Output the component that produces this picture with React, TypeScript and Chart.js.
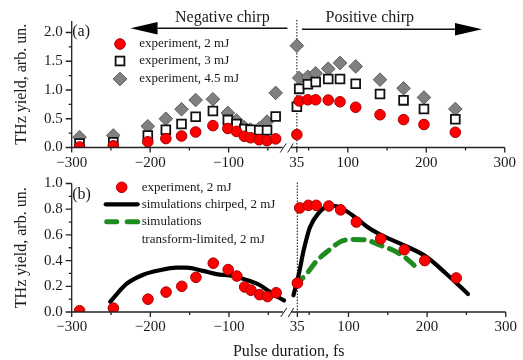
import React, { useEffect, useRef } from "react";
import { Chart, registerables } from "chart.js";
Chart.register(...registerables);

// ---------------- data ----------------
const expDuration = [-290, -247, -203, -180, -160, -142, -120, -101, -90, -80, -72, -61, -51, -40, 35, 38, 49, 59, 75, 90, 110, 141, 171, 197, 237];
const exp2mJ = [0.01, 0.03, 0.10, 0.155, 0.20, 0.27, 0.38, 0.33, 0.28, 0.195, 0.17, 0.135, 0.12, 0.15, 0.225, 0.81, 0.83, 0.83, 0.825, 0.795, 0.70, 0.57, 0.485, 0.40, 0.265];
const exp3mJ = [0.07, 0.09, 0.21, 0.31, 0.41, 0.535, 0.635, 0.48, 0.41, 0.32, 0.31, 0.30, 0.30, 0.54, 0.71, 1.02, 1.10, 1.14, 1.19, 1.19, 1.11, 0.93, 0.82, 0.67, 0.49];
const exp45mJ = [0.18, 0.21, 0.37, 0.50, 0.665, 0.825, 0.84, 0.60, 0.47, 0.35, 0.31, 0.33, 0.45, 0.95, 1.77, 1.21, 1.23, 1.29, 1.37, 1.47, 1.41, 1.18, 1.03, 0.87, 0.67];

const simChirpedNegDur = [-251, -230, -209, -188, -167, -154, -133, -116, -95, -78, -61, -50, -40, -30];
const simChirpedNeg = [0.08, 0.22, 0.29, 0.325, 0.345, 0.345, 0.32, 0.295, 0.28, 0.25, 0.21, 0.165, 0.125, 0.09];
const simChirpedPosDur = [30, 37, 43, 51, 62, 73, 83, 96, 110, 127, 148, 174, 199, 224, 252];
const simChirpedPos = [0.13, 0.30, 0.48, 0.66, 0.77, 0.82, 0.825, 0.79, 0.73, 0.65, 0.58, 0.51, 0.43, 0.30, 0.14];
const simTLDur = [32, 45, 60, 75, 91, 106, 123, 140, 157, 174, 184];
const simTL = [0.21, 0.285, 0.40, 0.48, 0.55, 0.565, 0.56, 0.52, 0.48, 0.415, 0.36];

const xMajorTicks = [-300, -200, -100, 35, 100, 200, 300];
const xMinorTicks = [-250, -150, -50, 50, 150, 250];
const yTopMajor = [0, 0.5, 1.0, 1.5, 2.0];
const yTopMinor = [0.25, 0.75, 1.25, 1.75];
const yBotMajor = [0, 0.2, 0.4, 0.6, 0.8, 1.0];
const yBotMinor = [0.1, 0.3, 0.5, 0.7, 0.9];

// ---------------- broken axis mapping ----------------
const BREAK_OFFSET = 48; // fs removed between negative and positive branches
const AXIS_GAP = [-31, -20.5]; // gap in the drawn x axis line (axis units)
const toU = (t: number) => (t < 0 ? t : t - BREAK_OFFSET);
const fromU = (u: number) => (u < -20 ? u : u + BREAK_OFFSET);

const FONT = '"Liberation Serif", "Times New Roman", serif';
const INK = "#1a1a1a";
const AXIS_COLOR = "#222";

const fmtX = (t: number) => (t < 0 ? "\u2212" + Math.abs(t) : String(t));
const near = (arr: number[], v: number) => arr.some((m) => Math.abs(m - v) < 1e-6);

function text(ctx: CanvasRenderingContext2D, s: string, x: number, y: number, size: number, align: CanvasTextAlign = "left", baseline: CanvasTextBaseline = "middle") {
  ctx.font = `${size}px ${FONT}`;
  ctx.fillStyle = INK;
  ctx.textAlign = align;
  ctx.textBaseline = baseline;
  ctx.fillText(s, x, y);
}

function drawFrame(chart: any, yMajor: number[], yMinor: number[]) {
  const { ctx, chartArea } = chart;
  const { left, right, top, bottom } = chartArea;
  const xs = chart.scales.x;
  const ys = chart.scales.y;
  ctx.save();
  ctx.strokeStyle = AXIS_COLOR;
  ctx.lineWidth = 1.3;
  ctx.beginPath();
  ctx.moveTo(left, top);
  ctx.lineTo(left, bottom);
  const gl = xs.getPixelForValue(AXIS_GAP[0]);
  const gr = xs.getPixelForValue(AXIS_GAP[1]);
  ctx.moveTo(left, bottom);
  ctx.lineTo(gl, bottom);
  ctx.moveTo(gr, bottom);
  ctx.lineTo(right, bottom);
  for (const t of xMajorTicks) {
    const px = xs.getPixelForValue(toU(t));
    ctx.moveTo(px, bottom);
    ctx.lineTo(px, bottom + 5);
  }
  for (const t of xMinorTicks) {
    const px = xs.getPixelForValue(toU(t));
    ctx.moveTo(px, bottom);
    ctx.lineTo(px, bottom + 3);
  }
  for (const v of yMajor) {
    const py = ys.getPixelForValue(v);
    ctx.moveTo(left, py);
    ctx.lineTo(left - 6, py);
  }
  for (const v of yMinor) {
    const py = ys.getPixelForValue(v);
    ctx.moveTo(left, py);
    ctx.lineTo(left - 3, py);
  }
  ctx.stroke();
  // break marks
  ctx.lineWidth = 1;
  ctx.beginPath();
  ctx.moveTo(gl - 2.5, bottom + 5);
  ctx.lineTo(gl + 3.5, bottom - 4);
  ctx.moveTo(gl + 5, bottom + 5);
  ctx.lineTo(gl + 10.5, bottom - 4);
  ctx.stroke();
  ctx.restore();
}

function drawDotted(chart: any) {
  const { ctx, chartArea } = chart;
  const px = chart.scales.x.getPixelForValue(toU(35));
  ctx.save();
  ctx.strokeStyle = "#333";
  ctx.lineWidth = 1.2;
  ctx.setLineDash([1.5, 1.5]);
  ctx.beginPath();
  ctx.moveTo(px, chartArea.top - 1);
  ctx.lineTo(px, chartArea.bottom);
  ctx.stroke();
  ctx.restore();
}

function yTitle(chart: any) {
  const { ctx, chartArea } = chart;
  ctx.save();
  ctx.translate(22, (chartArea.top + chartArea.bottom) / 2);
  ctx.rotate(-Math.PI / 2);
  text(ctx, "THz yield, arb. un.", 0, 0, 16, "center");
  ctx.restore();
}

function circle(ctx: CanvasRenderingContext2D, x: number, y: number, r: number) {
  ctx.beginPath();
  ctx.arc(x, y, r, 0, Math.PI * 2);
  ctx.fillStyle = "#ff0000";
  ctx.fill();
  ctx.strokeStyle = "#a80000";
  ctx.lineWidth = 1;
  ctx.stroke();
}

function arrow(ctx: CanvasRenderingContext2D, tail: number, tip: number, y: number) {
  const dir = tip > tail ? 1 : -1;
  const headLen = 27;
  const half = 6.3;
  ctx.save();
  ctx.strokeStyle = "#111";
  ctx.fillStyle = "#000";
  ctx.lineWidth = 1.5;
  ctx.beginPath();
  ctx.moveTo(tail, y);
  ctx.lineTo(tip - dir * headLen, y);
  ctx.stroke();
  ctx.beginPath();
  ctx.moveTo(tip, y);
  ctx.lineTo(tip - dir * headLen, y - half);
  ctx.lineTo(tip - dir * headLen, y + half);
  ctx.closePath();
  ctx.fill();
  ctx.restore();
}

function scalesFor(yMax: number, yMajor: number[], yMinor: number[], labelPad: number) {
  return {
    x: {
      type: "linear",
      min: -300,
      max: toU(300),
      grid: { display: false, drawTicks: false },
      border: { display: false },
      afterBuildTicks: (s: any) => {
        s.ticks = [...xMajorTicks, ...xMinorTicks].map((t) => toU(t)).sort((a, b) => a - b).map((v) => ({ value: v }));
      },
      afterFit: (s: any) => {
        s.height = 20;
      },
      ticks: {
        autoSkip: false,
        maxRotation: 0,
        minRotation: 0,
        padding: labelPad,
        color: INK,
        font: { family: FONT, size: 15 },
        callback: (v: number) => {
          const t = Math.round(fromU(v));
          return xMajorTicks.includes(t) ? fmtX(t) : "";
        },
      },
    },
    y: {
      type: "linear",
      min: 0,
      max: yMax,
      grid: { display: false, drawTicks: false },
      border: { display: false },
      afterBuildTicks: (s: any) => {
        s.ticks = [...yMajor, ...yMinor].sort((a, b) => a - b).map((v) => ({ value: v }));
      },
      afterFit: (s: any) => {
        s.width = 71.7;
      },
      ticks: {
        autoSkip: false,
        padding: 9,
        color: INK,
        font: { family: FONT, size: 15 },
        callback: (v: number) => (near(yMajor, v) ? v.toFixed(1) : ""),
      },
    },
  };
}

const pts = (dur: number[], vals: number[]) => dur.map((t, i) => ({ x: toU(t), y: vals[i] }));

const redPoint = {
  pointStyle: "circle",
  pointRadius: 5.3,
  pointBackgroundColor: "#ff0000",
  pointBorderColor: "#a80000",
  pointBorderWidth: 1,
  showLine: false,
};

function topConfig(): any {
  return {
    type: "scatter",
    data: {
      datasets: [
        { label: "experiment, 2 mJ", data: pts(expDuration, exp2mJ), ...redPoint },
        {
          label: "experiment, 3 mJ",
          data: pts(expDuration, exp3mJ),
          pointStyle: "rect",
          pointRadius: 6.2,
          pointBackgroundColor: "#ffffff",
          pointBorderColor: "#111111",
          pointBorderWidth: 1.8,
          showLine: false,
        },
        {
          label: "experiment, 4.5 mJ",
          data: pts(expDuration, exp45mJ),
          pointStyle: "rectRot",
          pointRadius: 6.8,
          pointBackgroundColor: "#808080",
          pointBorderColor: "#5a5a5a",
          pointBorderWidth: 1,
          showLine: false,
        },
      ],
    },
    options: {
      responsive: false,
      animation: false,
      events: [],
      layout: { padding: { left: 0, right: 16.3, top: 21, bottom: 360 - 147.5 - 20 } },
      plugins: { legend: { display: false }, tooltip: { enabled: false } },
      scales: scalesFor(2.2, yTopMajor, yTopMinor, 7),
    },
    plugins: [
      {
        id: "topDecor",
        beforeDatasetsDraw(chart: any) {
          drawDotted(chart);
        },
        afterDraw(chart: any) {
          const { ctx, chartArea } = chart;
          const xs = chart.scales.x;
          const { left, top } = chartArea;
          drawFrame(chart, yTopMajor, yTopMinor);
          yTitle(chart);
          ctx.save();
          // chirp arrows
          arrow(ctx, xs.getPixelForValue(toU(-25)), xs.getPixelForValue(toU(-225)), top + 7.3);
          arrow(ctx, xs.getPixelForValue(toU(41.5)), xs.getPixelForValue(toU(271)), top + 8.3);
          text(ctx, "Negative chirp", xs.getPixelForValue(toU(-108)), 21.5, 16, "center", "alphabetic");
          text(ctx, "Positive chirp", xs.getPixelForValue(toU(128)), 21.5, 16, "center", "alphabetic");
          // panel label
          text(ctx, "(a)", left + 0.5, top + 10.7, 16, "left");
          // legend
          const mx = left + 48.3;
          const tx = left + 67.6;
          circle(ctx, mx, top + 23, 5.3);
          text(ctx, "experiment, 2 mJ", tx, top + 23, 13);
          ctx.fillStyle = "#fff";
          ctx.strokeStyle = "#111";
          ctx.lineWidth = 1.8;
          ctx.fillRect(mx - 4.4, top + 40 - 4.4, 8.8, 8.8);
          ctx.strokeRect(mx - 4.4, top + 40 - 4.4, 8.8, 8.8);
          text(ctx, "experiment, 3 mJ", tx, top + 40, 13);
          ctx.beginPath();
          ctx.moveTo(mx - 6.8, top + 58);
          ctx.lineTo(mx, top + 58 - 6.8);
          ctx.lineTo(mx + 6.8, top + 58);
          ctx.lineTo(mx, top + 58 + 6.8);
          ctx.closePath();
          ctx.fillStyle = "#808080";
          ctx.fill();
          ctx.strokeStyle = "#5a5a5a";
          ctx.lineWidth = 1;
          ctx.stroke();
          text(ctx, "experiment, 4.5 mJ", tx, top + 58, 13);
          ctx.restore();
        },
      },
    ],
  };
}

function botConfig(): any {
  const curve = {
    showLine: true,
    pointRadius: 0,
    fill: false,
    cubicInterpolationMode: "monotone",
    borderCapStyle: "round",
  };
  return {
    type: "scatter",
    data: {
      datasets: [
        { label: "experiment, 2 mJ", data: pts(expDuration, exp2mJ), ...redPoint },
        { label: "simulations chirped, 2 mJ", data: pts(simChirpedNegDur, simChirpedNeg), borderColor: "#000", borderWidth: 4.2, ...curve },
        { label: "simulations chirped, 2 mJ (positive)", data: pts(simChirpedPosDur, simChirpedPos), borderColor: "#000", borderWidth: 4.2, ...curve },
        {
          label: "simulations transform-limited, 2 mJ",
          data: pts(simTLDur, simTL),
          borderColor: "#1f8c1f",
          borderWidth: 5,
          borderDash: [11, 8],
          ...curve,
        },
      ],
    },
    options: {
      responsive: false,
      animation: false,
      events: [],
      layout: { padding: { left: 0, right: 16.3, top: 183.5, bottom: 360 - 312 - 20 } },
      plugins: { legend: { display: false }, tooltip: { enabled: false } },
      scales: scalesFor(1.0, yBotMajor, yBotMinor, 6),
    },
    plugins: [
      {
        id: "botDecor",
        beforeDatasetsDraw(chart: any) {
          drawDotted(chart);
        },
        afterDraw(chart: any) {
          const { ctx, chartArea } = chart;
          const { left, right, top } = chartArea;
          drawFrame(chart, yBotMajor, yBotMinor);
          yTitle(chart);
          ctx.save();
          text(ctx, "Pulse duration, fs", (left + right) / 2, 352, 16, "center");
          text(ctx, "(b)", left + 0.5, top + 11.5, 16, "left");
          const tx = left + 70;
          circle(ctx, left + 50, top + 3.8, 5.3);
          text(ctx, "experiment, 2 mJ", tx, top + 4.3, 13);
          ctx.strokeStyle = "#000";
          ctx.lineWidth = 4.2;
          ctx.lineCap = "round";
          ctx.beginPath();
          ctx.moveTo(left + 34, top + 20.8);
          ctx.lineTo(left + 66, top + 20.8);
          ctx.stroke();
          text(ctx, "simulations chirped, 2 mJ", tx, top + 21, 13);
          ctx.strokeStyle = "#1f8c1f";
          ctx.lineWidth = 5;
          ctx.beginPath();
          ctx.moveTo(left + 35, top + 38.2);
          ctx.lineTo(left + 45, top + 38.2);
          ctx.moveTo(left + 55.5, top + 38.2);
          ctx.lineTo(left + 66, top + 38.2);
          ctx.stroke();
          text(ctx, "simulations", tx, top + 37.8, 13);
          text(ctx, "transform-limited, 2 mJ", tx, top + 55.8, 13);
          ctx.restore();
        },
      },
    ],
  };
}

export default function App() {
  const topRef = useRef<HTMLCanvasElement>(null);
  const botRef = useRef<HTMLCanvasElement>(null);
  useEffect(() => {
    document.body.style.margin = "0";
    const c1 = new Chart(topRef.current as HTMLCanvasElement, topConfig());
    const c2 = new Chart(botRef.current as HTMLCanvasElement, botConfig());
    return () => {
      c1.destroy();
      c2.destroy();
    };
  }, []);
  return (
    <div style={{ position: "relative", width: 523, height: 360, background: "#fff" }}>
      <canvas ref={topRef} width={523} height={360} style={{ position: "absolute", left: 0, top: 0 }} />
      <canvas ref={botRef} width={523} height={360} style={{ position: "absolute", left: 0, top: 0 }} />
    </div>
  );
}
